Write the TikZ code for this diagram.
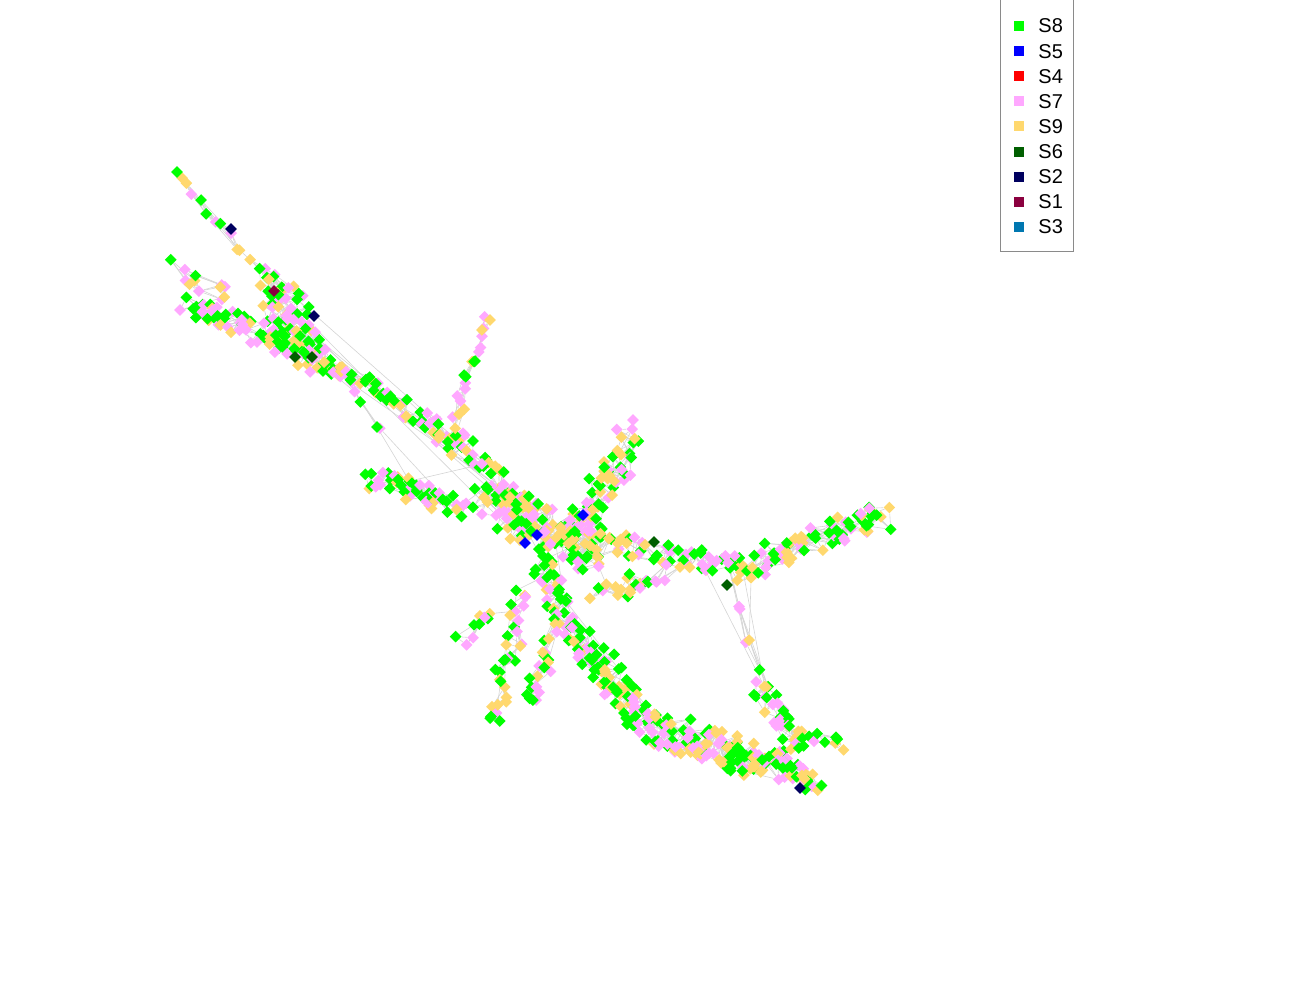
\documentclass[tikz,border=0pt]{standalone}
\usepackage{fontspec}
\setmainfont{Liberation Sans}
\usetikzlibrary{shapes.geometric}
\definecolor{c8}{HTML}{00FF00}
\definecolor{c5}{HTML}{0000FF}
\definecolor{c4}{HTML}{FF0000}
\definecolor{c7}{HTML}{FFA8FF}
\definecolor{c9}{HTML}{FFD86E}
\definecolor{c6}{HTML}{005F00}
\definecolor{c2}{HTML}{00005F}
\definecolor{c1}{HTML}{8B003F}
\definecolor{c3}{HTML}{0077B0}
\definecolor{edgegray}{HTML}{D4D4D4}
\definecolor{boxgray}{HTML}{8A8A8A}
\def\seglist{
  175/170/250/258/10/4,
  250/258/300/300/8/7,
  262/280/322/362/58/18,
  175/268/232/300/12/10,
  190/306/300/348/58/12,
  300/345/440/430/62/9,
  440/430/540/520/55/11,
  340/370/380/430/3/3,
  375/478/462/507/52/13,
  450/440/490/312/22/6,
  488/500/605/555/125/20,
  580/530/632/440/55/14,
  600/540/740/570/50/11,
  740/570/885/515/78/14,
  598/600/672/570/24/11,
  540/555/575/640/45/11,
  575/640/650/722/72/14,
  650/728/765/765/115/17,
  762/752/816/785/45/11,
  737/585/765/690/6/6,
  760/690/796/742/34/11,
  795/735/850/745/10/6,
  525/590/490/725/32/9,
  555/625/530/710/22/8,
  500/610/455/645/10/8}
\begin{document}
\begin{tikzpicture}[x=0.5pt,y=-0.5pt,
  dm/.style={diamond,inner sep=0pt,minimum size=6pt,fill=#1},
  ghost/.style={diamond,inner sep=0pt,minimum size=6pt},
  lnk/.style={draw=edgegray,line width=0.3pt},
  legsq/.style={fill=#1,minimum size=5pt,inner sep=0pt},
  legtx/.style={anchor=west,font=\fontsize{10}{12}\selectfont,inner sep=0pt}]
\useasboundingbox (0,0) rectangle (1300,1000);
% pass 1: positions and links
\pgfmathsetseed{20}
\foreach \sx/\sy/\ex/\ey/\n/\w [count=\s] in \seglist {
  \foreach \i in {1,...,\n}{
    \pgfmathsetmacro\t{(\i-1+rnd)/\n}
    \pgfmathsetmacro\px{\sx+\t*(\ex-\sx)+\w*rand}
    \pgfmathsetmacro\py{\sy+\t*(\ey-\sy)+\w*rand}
    \pgfmathsetmacro\c{rnd}
    \node[ghost] (p\s-\i) at (\px,\py) {};
    \ifnum\i>1
      \pgfmathtruncatemacro\j{\i-1}
      \draw[lnk] (p\s-\i) -- (p\s-\j);
    \fi
    \ifnum\i>2
      \pgfmathtruncatemacro\j{\i-2}
      \draw[lnk] (p\s-\i) -- (p\s-\j);
    \fi
    \ifnum\i>4
      \pgfmathtruncatemacro\k{\i-4}
      \draw[lnk] (p\s-\i) -- (p\s-\k);
    \fi
  }
}
\node[ghost] (x1) at (231,229) {};
\node[ghost] (x2) at (314,316) {};
\node[ghost] (x3) at (800,788) {};
\node[ghost] (x4) at (274,291) {};
\node[ghost] (x5) at (295,357) {};
\node[ghost] (x6) at (312,357) {};
\node[ghost] (x7) at (654,542) {};
\node[ghost] (x8) at (727,585) {};
\node[ghost] (x9) at (583,515) {};
\node[ghost] (x10) at (525,543) {};
\node[ghost] (x11) at (537,535) {};
\node[ghost] (x12) at (633,420) {};
\node[ghost] (x13) at (377,427) {};
\foreach \a/\b in {1-10/2-1, 2-8/3-1, 4-12/5-1, 5-58/6-1, 3-58/6-1, 3-30/6-5,
  6-62/7-1, 7-55/11-1, 8-1/3-35, 8-3/9-50, 9-52/11-5, 10-1/7-10, 12-1/11-90,
  13-1/11-110, 13-50/14-1, 15-24/13-15, 16-1/11-80, 16-45/17-1, 17-72/18-1,
  18-115/19-1, 20-1/13-50, 20-6/21-1, 21-34/19-10, 21-20/22-1, 23-1/16-5,
  24-1/16-20, 25-1/23-5, 3-20/7-20, 5-40/6-30, 6-20/7-30, 3-25/7-35, 3-10/6-40,
  11-50/16-20, 11-45/16-30, 14-1/20-3, 13-40/21-5, 13-44/20-2,
  9-20/7-25, 12-20/11-100, 15-5/11-120, 3-45/7-45, 3-50/11-20, 5-50/7-40,
  6-40/11-30, 16-30/17-30, 16-40/17-50, 14-3/20-4, 13-48/21-10, 12-55/11-95}
  \draw[lnk] (p\a) -- (p\b);
\draw[lnk] (x1) -- (p1-6) (x2) -- (p3-20) (x4) -- (p3-5) (x9) -- (p11-90)
  (x10) -- (p11-40) (x7) -- (p13-10) (x8) -- (p14-3) (x3) -- (p19-30)
  (x5) -- (p3-50) (x6) -- (p6-2) (x11) -- (p11-45) (x12) -- (p12-55)
  (x13) -- (p6-20) (x13) -- (p9-20);
% pass 2: the diamonds (same random sequence)
\pgfmathsetseed{20}
\foreach \sx/\sy/\ex/\ey/\n/\w [count=\s] in \seglist {
  \foreach \i in {1,...,\n}{
    \pgfmathsetmacro\t{(\i-1+rnd)/\n}
    \pgfmathsetmacro\px{\sx+\t*(\ex-\sx)+\w*rand}
    \pgfmathsetmacro\py{\sy+\t*(\ey-\sy)+\w*rand}
    \pgfmathsetmacro\c{rnd}
    \ifdim\c pt<0.41pt \def\col{c8}\else\ifdim\c pt<0.71pt \def\col{c9}\else\def\col{c7}\fi\fi
    \node[dm=\col] (n\s-\i) at (\px,\py) {};
  }
}
% rare groups on top
\foreach \q/\cl in {1/c2,2/c2,3/c2,4/c1,5/c6,6/c6,7/c6,8/c6,9/c5,10/c5,11/c5,12/c7,13/c8}
  \node[dm=\cl] (y\q) at (x\q) {};
\node[dm=c8] (y14) at (177,172) {};
% legend
\draw[boxgray,line width=0.5pt] (1000,0) -- (1000,252) -- (1073,252) -- (1073,0);
\foreach \lab/\cl [count=\m] in {S8/c8,S5/c5,S4/c4,S7/c7,S9/c9,S6/c6,S2/c2,S1/c1,S3/c3}{
  \pgfmathsetmacro\ly{26+25.125*(\m-1)}
  \node[legsq=\cl] (lk\m) at (1019,\ly) {};
  \node[legtx] (lt\m) at (1038,\ly) {\lab};
}
\end{tikzpicture}
\end{document}
